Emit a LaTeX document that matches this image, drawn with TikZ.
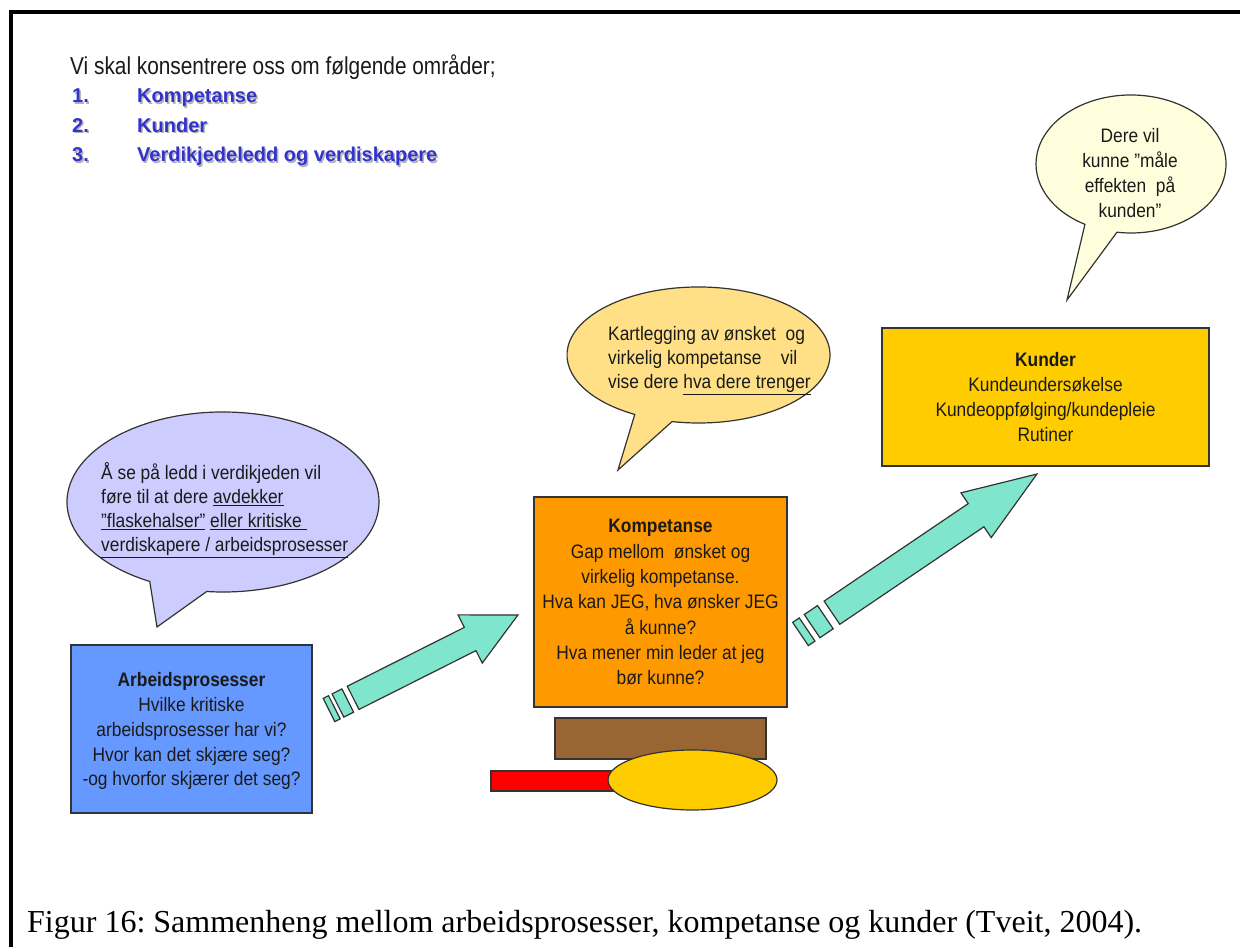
\documentclass[tikz,border=0pt]{standalone}
\usepackage{fontspec}
\setmainfont{Liberation Serif}
\newfontfamily\ttlfont{Liberation Sans}[FakeStretch=0.85]
\newfontfamily\bxfont{Liberation Sans}[FakeStretch=0.89]
\newfontfamily\itemfont{Liberation Sans}
\usetikzlibrary{calc}
\frenchspacing
\definecolor{lilac}{HTML}{CCCCFF}
\definecolor{boxblue}{HTML}{6699FF}
\definecolor{boxorange}{HTML}{FF9900}
\definecolor{boxgold}{HTML}{FFCC00}
\definecolor{bubyellow}{HTML}{FFE086}
\definecolor{bubpale}{HTML}{FFFFDD}
\definecolor{teal}{HTML}{7FE5CC}
\definecolor{brown}{HTML}{996633}
\definecolor{itemblue}{HTML}{3333CC}
\definecolor{ink}{HTML}{1A1A1A}
\tikzset{
  outl/.style={draw=black!80, line width=1.2pt},
  arrowshape/.style={outl, fill=teal, line join=miter},
  txt/.style={inner sep=0pt, text=ink},
  itemtxt/.style={inner sep=0pt, anchor=base west, font=\itemfont\bfseries\fontsize{20}{24}\selectfont, text=itemblue},
  itemshadow/.style={inner sep=0pt, anchor=base west, font=\itemfont\bfseries\fontsize{20}{24}\selectfont, text=black!30},
}
\begin{document}
\begin{tikzpicture}[x=1pt,y=1pt]
\useasboundingbox (0,0) rectangle (1240,947);
\fill[white] (0,0) rectangle (1240,947);
% frame
\draw[line width=4pt, line join=miter] (11,-5) -- (11,934.5) -- (1245,934.5);

% title
\node[txt, anchor=base west, font=\ttlfont\fontsize{24.5}{28}\selectfont] (title) at (70,872) {Vi skal konsentrere oss om følgende områder;};
\foreach \n/\lab/\yy in {1/Kompetanse/844, 2/Kunder/814.5, 3/Verdikjedeledd og verdiskapere/785}{
  \node[itemshadow] (ns\n) at (73.5,\yy-1.5) {\n.};
  \node[itemshadow] (is\n) at (138.5,\yy-1.5) {\lab};
  \node[itemtxt] (n\n) at (72,\yy) {\n.};
  \node[itemtxt] (i\n) at (137,\yy) {\lab};
}

% callouts
\coordinate (lc) at (223,445);
\draw[outl, fill=lilac] (157,320) -- ($(lc)+(264:156 and 90)$) arc[start angle=264, end angle=602, x radius=156, y radius=90] -- cycle;
\coordinate (kc) at (698.5,592);
\draw[outl, fill=bubyellow] (618,477) -- ($(kc)+(258.4:131.5 and 68)$) arc[start angle=258.4, end angle=601, x radius=131.5, y radius=68] -- cycle;
\coordinate (dc) at (1131,783);
\draw[outl, fill=bubpale] (1067,647) -- ($(dc)+(261.5:95 and 69)$) arc[start angle=261.5, end angle=601, x radius=95, y radius=69] -- cycle;

\node[txt, anchor=base west] (tlilac) at (101,467) {\parbox[t]{300pt}{\raggedright\bxfont\fontsize{19.5}{24}\selectfont
Å se på ledd i verdikjeden vil\\
føre til at dere \underline{avdekker}\\
\underline{”flaskehalser”} \underline{eller kritiske }\\
\underline{verdiskapere / arbeidsprosesser}}};
\node[txt, anchor=base west] (tkart) at (608,606) {\parbox[t]{300pt}{\raggedright\bxfont\fontsize{19.5}{24}\selectfont
Kartlegging av ønsket\ \ og\\
virkelig kompetanse\ \ \ \ vil\\
vise dere \underline{hva dere trenger}}};
\node[txt, anchor=base] (tdere) at (1130,804) {\parbox[t]{180pt}{\centering\bxfont\fontsize{19.5}{25}\selectfont
Dere vil\\
kunne ”måle\\
effekten\ \ på\\
kunden”}};

% boxes
\draw[outl, fill=boxblue] (71,134) rectangle (312,302);
\node[txt, anchor=base] (tarb) at (191.5,260) {\parbox[t]{260pt}{\centering\bxfont\fontsize{19.5}{24.7}\selectfont
\textbf{Arbeidsprosesser}\\
Hvilke kritiske\\
arbeidsprosesser har vi?\\
Hvor kan det skjære seg?\\
-og hvorfor skjærer det seg?}};

\draw[outl, fill=boxorange] (534,240) rectangle (787,450);
\node[txt, anchor=base] (tkomp) at (660.5,414) {\parbox[t]{260pt}{\centering\bxfont\fontsize{19.5}{25.3}\selectfont
\textbf{Kompetanse}\\
Gap mellom\ \ ønsket og\\
virkelig kompetanse.\\
Hva kan JEG, hva ønsker JEG\\
å kunne?\\
Hva mener min leder at jeg\\
bør kunne?}};

\draw[outl, fill=boxgold] (882,481) rectangle (1209,619);
\node[txt, anchor=base] (tkund) at (1045.5,580) {\parbox[t]{320pt}{\centering\bxfont\fontsize{19.5}{25}\selectfont
\textbf{Kunder}\\
Kundeundersøkelse\\
Kundeoppfølging/kundepleie\\
Rutiner}};

% base shapes under Kompetanse
\draw[outl, fill=brown] (555,188) rectangle (766,229);
\draw[outl, fill=red] (491,156) rectangle (640,176);
\draw[outl, fill=boxgold] (692.5,167) ellipse[x radius=84.5, y radius=30];

% striped arrows
\begin{scope}[shift={(329,237)}, rotate=26.7]
  \draw[arrowshape] (0,-13) rectangle (6,13);
  \draw[arrowshape] (10,-13) rectangle (21,13);
  \draw[arrowshape] (27,-13) -- (158,-13) -- (158,-27) -- (211.5,0) -- (158,27) -- (158,13) -- (27,13) -- cycle;
\end{scope}
\begin{scope}[shift={(800.5,313)}, rotate=34.08]
  \draw[arrowshape] (0,-14) rectangle (8,14);
  \draw[arrowshape] (14,-14) rectangle (30,14);
  \draw[arrowshape] (38,-14) -- (212,-14) -- (212,-27) -- (285.5,0) -- (212,27) -- (212,14) -- (38,14) -- cycle;
\end{scope}

% caption
\node[inner sep=0pt, anchor=base west, font=\fontsize{32}{38}\selectfont] (cap) at (27,14) {Figur 16: Sammenheng mellom arbeidsprosesser, kompetanse og kunder (Tveit, 2004).};
\end{tikzpicture}
\end{document}
